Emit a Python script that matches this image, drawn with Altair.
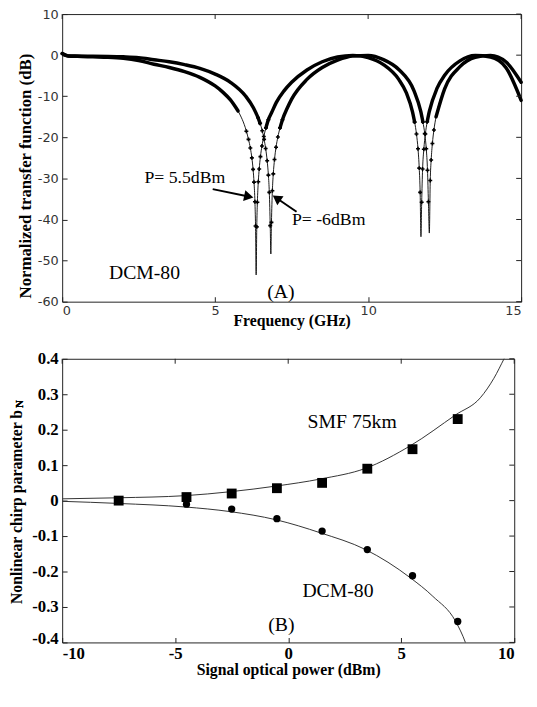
import altair as alt
import pandas as pd

# ---------------- Panel (A): normalized transfer function ----------------
freq_p55 = [0, 0.2, 0.5, 1, 1.5, 2, 2.5, 3, 3.5, 4, 4.5, 5, 5.25, 5.5, 5.75, 6.02, 6.09, 6.15, 6.2, 6.24,
            6.27, 6.3, 6.32, 6.34, 6.36, 6.38, 6.41, 6.44, 6.48, 6.53, 6.59, 6.66, 6.74, 6.85, 7.0, 7.25,
            7.5, 8.0, 8.5, 9.0, 9.5, 10.0, 10.5, 11.0, 11.25, 11.45, 11.52, 11.58, 11.63, 11.67, 11.7,
            11.726, 11.75, 11.78, 11.82, 11.87, 11.93, 12.0, 12.25, 12.5, 13.0, 13.5, 14.0, 14.5, 15.0]
db_p55 = [0.4, -0.2, -0.3, -0.4, -0.5, -0.75, -1.3, -2.2, -3.0, -4.0, -5.4, -7.5, -9.0, -10.9, -13.6, -18.5,
          -20.5, -22.6, -25.0, -27.8, -30.9, -35.7, -41.6, -53.5, -41.8, -35.8, -30.8, -27.7, -24.7, -22.1,
          -19.8, -17.7, -15.7, -13.9, -11.5, -8.7, -6.6, -3.6, -1.6, -0.45, -0.05, -0.6, -2.3, -5.9, -9.2,
          -13.8, -16.3, -19.2, -22.8, -27.5, -33.4, -44.2, -35.8, -27.7, -22.9, -19.2, -16.2, -13.7, -8.1,
          -4.9, -1.4, -0.1, -0.45, -3.0, -11.0]
freq_m6 = [0, 0.2, 0.5, 1, 1.5, 2, 2.5, 3, 3.5, 4, 4.5, 5, 5.5, 6.0, 6.25, 6.4, 6.47, 6.54, 6.6, 6.65,
           6.7, 6.74, 6.77, 6.8, 6.82, 6.84, 6.87, 6.9, 6.94, 6.99, 7.05, 7.12, 7.2, 7.35, 7.5, 8.0, 8.5,
           9.0, 9.5, 10.0, 10.5, 11.0, 11.5, 11.72, 11.79, 11.85, 11.9, 11.94, 11.97, 12.0, 12.03, 12.06,
           12.1, 12.15, 12.22, 12.5, 13.0, 13.5, 14.0, 14.5, 15.0]
db_m6 = [0.4, -0.2, -0.2, -0.25, -0.3, -0.4, -0.6, -1.1, -1.6, -2.3, -3.2, -4.6, -6.6, -10.0, -12.8, -15.2,
         -16.6, -18.4, -20.5, -22.7, -25.7, -29.2, -33.4, -41.5, -48.4, -40.7, -33.0, -28.9, -25.4, -22.4,
         -19.9, -17.7, -15.7, -13.0, -10.7, -5.9, -3.0, -1.2, -0.2, -0.1, -1.1, -3.5, -8.7, -13.7, -16.25,
         -19.1, -22.8, -28.0, -35.7, -43.3, -30.5, -25.5, -21.5, -18.2, -15.0, -8.2, -2.8, -0.5, -0.05,
         -1.6, -6.6]
notch_p55 = [6.34, 11.726]
notch_m6 = [6.82, 12.0]

a_x_ticks = [0, 5, 10, 15]
a_y_ticks = [10, 0, -10, -20, -30, -40, -50, -60]

a_text = ["P= 5.5dBm", "P= -6dBm", "DCM-80", "(A)"]
a_text_x = [4.01, 8.71, 2.69, 7.15]
a_text_y = [-30.0, -40.2, -53.0, -57.7]
a_text_size = [18, 18, 20, 20]

arrow_x = [4.92, 7.66]
arrow_y = [-32.6, -38.1]
arrow_x2 = [6.05, 7.05]
arrow_y2 = [-34.35, -35.0]
arrow_angle = [102, 305]

# ---------------- Panel (B): nonlinear chirp parameter ----------------
p_smf = [-7.5, -4.5, -2.5, -0.5, 1.5, 3.5, 5.5, 7.5]
b_smf = [0.0, 0.01, 0.02, 0.035, 0.05, 0.09, 0.145, 0.23]
p_dcm = [-4.5, -2.5, -0.5, 1.5, 3.5, 5.5, 7.5]
b_dcm = [-0.01, -0.024, -0.051, -0.086, -0.138, -0.212, -0.341]

fit_smf_x = [-10, -7.5, -4.55, -2.57, -0.54, 1.43, 3.42, 5.41, 7.41, 8.5, 9.1, 9.55, 9.75]
fit_smf_y = [0.005, 0.008, 0.014, 0.025, 0.041, 0.061, 0.091, 0.155, 0.242, 0.29, 0.345, 0.40, 0.425]
fit_dcm_x = [-10, -7.5, -4.55, -2.57, -0.54, 1.43, 3.42, 5.41, 6.4, 7.41, 7.84, 7.95]
fit_dcm_y = [-0.002, -0.008, -0.018, -0.031, -0.054, -0.091, -0.138, -0.218, -0.27, -0.341, -0.40, -0.42]

b_x_ticks = [-10, -5, 0, 5, 10]
b_y_ticks = [0.4, 0.3, 0.2, 0.1, 0, -0.1, -0.2, -0.3, -0.4]

b_text = ["SMF 75km", "DCM-80", "(B)"]
b_text_x = [2.83, 2.2, -0.3]
b_text_y = [0.2225, -0.255, -0.351]

SANS = "DejaVu Sans"
SERIF = "Liberation Serif"
FRAME = "#222"
TICK = 5

# ---------------- build tables ----------------
rows = []
for name, fs, ds, notches in [("P=5.5dBm", freq_p55, db_p55, notch_p55),
                              ("P=-6dBm", freq_m6, db_m6, notch_m6)]:
    seg, prev = 0, None
    for f, d in zip(fs, ds):
        thick = d >= -18
        if prev is not None and thick != prev:
            seg += 1
        prev = thick
        rows.append(dict(curve=name, f=f, db=d, thick=thick, seg=f"{name}-{seg}",
                         marker=(f not in notches) and d < -15))
df_a = pd.DataFrame(rows)
df_a_text = pd.DataFrame(dict(t=a_text, x=a_text_x, y=a_text_y, s=a_text_size))
df_arrow = pd.DataFrame(dict(x=arrow_x, y=arrow_y, x2=arrow_x2, y2=arrow_y2, ang=arrow_angle))
df_a_xt = pd.DataFrame(dict(v=a_x_ticks))
df_a_yt = pd.DataFrame(dict(v=a_y_ticks))

df_fit = pd.concat([
    pd.DataFrame(dict(curve="SMF", p=fit_smf_x, b=fit_smf_y)),
    pd.DataFrame(dict(curve="DCM", p=fit_dcm_x, b=fit_dcm_y)),
])
df_smf = pd.DataFrame(dict(p=p_smf, b=b_smf))
df_dcm = pd.DataFrame(dict(p=p_dcm, b=b_dcm))
df_b_text = pd.DataFrame(dict(t=b_text, x=b_text_x, y=b_text_y))
df_b_xt = pd.DataFrame(dict(v=b_x_ticks))
df_b_yt = pd.DataFrame(dict(v=b_y_ticks))


def frame_ticks(df_xt, df_yt, xs, ys, w):
    """Inward ticks on the top and right edges (the bottom/left ones come from the axes)."""
    top = alt.Chart(df_xt).mark_rule(color=FRAME, strokeWidth=1).encode(
        x=alt.X("v:Q", scale=xs, axis=None), y=alt.value(0), y2=alt.value(TICK))
    right = alt.Chart(df_yt).mark_rule(color=FRAME, strokeWidth=1).encode(
        y=alt.Y("v:Q", scale=ys, axis=None), x=alt.value(w - TICK), x2=alt.value(w))
    return top, right


# ---------------- panel A ----------------
WA, HA = 466, 292
xa = alt.Scale(domain=[0, 15], nice=False, zero=False)
ya = alt.Scale(domain=[-60, 10], nice=False, zero=False)

a_bottom = alt.Axis(orient="bottom", values=a_x_ticks, offset=-TICK, tickSize=TICK, tickColor=FRAME,
                    domain=False, grid=False, labelPadding=3, labelFont=SANS, labelFontSize=13,
                    labelColor="#333", labelExpr="'' + datum.value",
                    title="Frequency (GHz)", titleFont=SERIF, titleFontWeight="bold",
                    titleFontSize=16, titleColor="black", titleY=24, titleBaseline="middle")
a_left = alt.Axis(orient="left", values=a_y_ticks, offset=-TICK, tickSize=TICK, tickColor=FRAME,
                  domain=False, grid=False, labelPadding=4, labelFont=SANS, labelFontSize=13,
                  labelColor="#333", labelExpr="'' + datum.value",
                  title="Normalized transfer function (dB)", titleFont=SERIF, titleFontWeight="bold",
                  titleFontSize=17, titleColor="black", titleX=-42, titleY=164, titleAngle=270,
                  titleBaseline="middle")

base_a = alt.Chart(df_a)
thin_a = base_a.mark_line(color="black", strokeWidth=0.9, interpolate="monotone").encode(
    x=alt.X("f:Q", scale=xa, axis=a_bottom),
    y=alt.Y("db:Q", scale=ya, axis=a_left),
    detail="curve:N", order="f:Q")
thick_a = base_a.transform_filter("datum.thick").mark_line(
    color="black", strokeWidth=3.5, strokeCap="round", interpolate="monotone").encode(
    x=alt.X("f:Q", scale=xa, axis=None),
    y=alt.Y("db:Q", scale=ya, axis=None),
    detail="seg:N", order="f:Q")
marks_a = base_a.transform_filter("datum.marker").mark_point(
    shape="cross", filled=True, size=16, color="black", opacity=1).encode(
    x=alt.X("f:Q", scale=xa, axis=None),
    y=alt.Y("db:Q", scale=ya, axis=None))
text_a = alt.Chart(df_a_text).mark_text(font=SERIF, color="black", align="center",
                                         baseline="middle").encode(
    x=alt.X("x:Q", scale=xa, axis=None),
    y=alt.Y("y:Q", scale=ya, axis=None),
    text="t:N",
    size=alt.Size("s:Q", scale=None))
arrow_a = alt.Chart(df_arrow).mark_rule(color="black", strokeWidth=2).encode(
    x=alt.X("x:Q", scale=xa, axis=None), y=alt.Y("y:Q", scale=ya, axis=None),
    x2="x2:Q", y2="y2:Q")
head_a = alt.Chart(df_arrow).mark_point(shape="triangle", filled=True, size=120, color="black",
                                        opacity=1).encode(
    x=alt.X("x2:Q", scale=xa, axis=None), y=alt.Y("y2:Q", scale=ya, axis=None),
    angle=alt.Angle("ang:Q", scale=None))
top_a, right_a = frame_ticks(df_a_xt, df_a_yt, xa, ya, WA)

panel_a = alt.layer(thin_a, thick_a, marks_a, arrow_a, head_a, text_a, top_a, right_a).resolve_axis(
    x="independent", y="independent").properties(width=WA, height=HA)

# ---------------- panel B ----------------
WB, HB = 459, 288
xb = alt.Scale(domain=[-10, 10], nice=False, zero=False)
yb = alt.Scale(domain=[-0.4, 0.4], nice=False, zero=False)

b_bottom = alt.Axis(orient="bottom", values=b_x_ticks, offset=-TICK, tickSize=TICK, tickColor=FRAME,
                    domain=False, grid=False, labelPadding=3, labelFont=SERIF, labelFontWeight="bold",
                    labelFontSize=17, labelColor="black", labelExpr="'' + datum.value",
                    title="Signal optical power (dBm)", titleFont=SERIF, titleFontWeight="bold",
                    titleFontSize=16, titleColor="black", titleY=33, titleBaseline="middle")
b_left = alt.Axis(orient="left", values=b_y_ticks, offset=-TICK, tickSize=TICK, tickColor=FRAME,
                  domain=False, grid=False, labelPadding=4, labelFont=SERIF, labelFontWeight="bold",
                  labelFontSize=17, labelColor="black", labelExpr="'' + datum.value",
                  labelOffset={"condition": {"test": "datum.value == -0.4", "value": -4},
                               "value": 0},
                  title="Nonlinear chirp parameter b", titleFont=SERIF, titleFontWeight="bold",
                  titleFontSize=16, titleColor="black", titleX=-51, titleY=150, titleAngle=270,
                  titleBaseline="middle")

fit_b = alt.Chart(df_fit).mark_line(color="#333", strokeWidth=1, interpolate="monotone",
                                    clip=True).encode(
    x=alt.X("p:Q", scale=xb, axis=b_bottom),
    y=alt.Y("b:Q", scale=yb, axis=b_left),
    detail="curve:N", order="p:Q")
smf_b = alt.Chart(df_smf).mark_point(shape="square", filled=True, size=100, color="black",
                                     opacity=1).encode(
    x=alt.X("p:Q", scale=xb, axis=None), y=alt.Y("b:Q", scale=yb, axis=None))
dcm_b = alt.Chart(df_dcm).mark_point(shape="circle", filled=True, size=55, color="black",
                                     opacity=1).encode(
    x=alt.X("p:Q", scale=xb, axis=None), y=alt.Y("b:Q", scale=yb, axis=None))
text_b = alt.Chart(df_b_text).mark_text(font=SERIF, fontSize=20, color="black", align="center",
                                         baseline="middle").encode(
    x=alt.X("x:Q", scale=xb, axis=None),
    y=alt.Y("y:Q", scale=yb, axis=None),
    text="t:N")
sub_n = alt.Chart(df_b_text).mark_text(text="N", font=SERIF, fontWeight="bold", fontSize=11,
                                        angle=270, color="black", baseline="middle",
                                        align="center").encode(
    x=alt.value(-43), y=alt.value(46))
top_b, right_b = frame_ticks(df_b_xt, df_b_yt, xb, yb, WB)

panel_b = alt.layer(fit_b, smf_b, dcm_b, text_b, sub_n, top_b, right_b).resolve_axis(
    x="independent", y="independent").properties(width=WB, height=HB)

chart = alt.vconcat(panel_a, panel_b, spacing=20).properties(
    padding={"left": 0, "top": -6, "right": 0, "bottom": -2}, background="white"
).configure_view(stroke=FRAME, strokeWidth=1).configure_axis(minExtent=0)

chart.save("out.html", embed_options={"renderer": "svg", "actions": False})
